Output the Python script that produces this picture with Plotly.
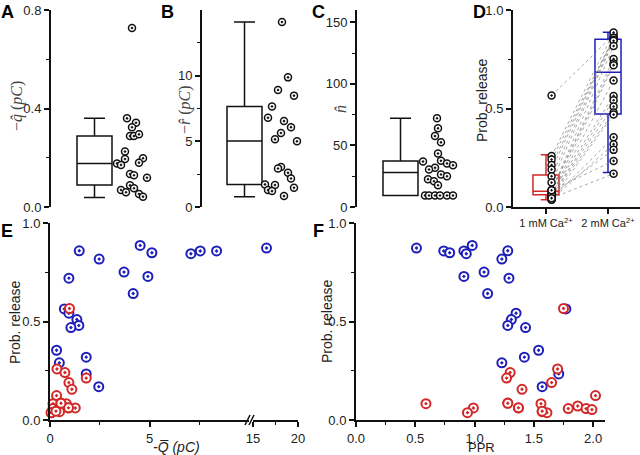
import plotly.graph_objects as go

W, H = 640, 455

# ---------------- data ----------------
# Panel A: -q_hat (pC)
A_q = [0.727, 0.36, 0.342, 0.324, 0.288, 0.288, 0.295, 0.225, 0.195, 0.177, 0.171,
       0.198, 0.18, 0.134, 0.129, 0.119, 0.088, 0.076, 0.069, 0.06, 0.053, 0.042]
A_box = dict(q1=0.089, median=0.177, q3=0.288, lower=0.039, upper=0.36)

# Panel B: -r_hat (pC)
B_r = [14.09, 9.87, 8.91, 8.48, 7.65, 6.79, 6.54, 6.08, 5.63, 5.15, 5.0,
       3.05, 2.93, 2.6, 2.17, 1.72, 1.67, 1.46, 1.29, 1.21, 0.83]
B_box = dict(q1=1.72, median=5.02, q3=7.65, lower=0.78, upper=14.09)

# Panel C: n_hat
C_n = [72.1, 63.9, 57.6, 52.5, 43.5, 36.9, 37.5, 35.4, 34, 31.8, 30.5,
       26.4, 25, 22.6, 20.9, 17.7, 9.3, 9.3, 9.3, 9.3, 9.3, 9.3]
C_box = dict(q1=9.3, median=28, q3=37.3, lower=9.3, upper=72)

# Panels D-F: per-cell values at 2 mM (blue) and 1 mM (red) Ca2+
blue_P = [0.873, 0.886, 0.858, 0.858, 0.859, 0.849, 0.844, 0.817, 0.751, 0.729, 0.720,
          0.642, 0.564, 0.542, 0.510, 0.480, 0.469, 0.354, 0.319, 0.290, 0.234, 0.169]
blue_Q = [16.5, 4.53, 7.55, 8.37, 1.47, 5.12, 7.08, 2.47, 3.72, 4.92, 0.95,
          4.18, 0.72, 0.95, 1.35, 1.45, 1.05, 0.33, 1.82, 0.47, 1.82, 2.45]
blue_PPR = [0.51, 0.98, 0.74, 0.91, 1.28, 0.79, 0.93, 1.23, 1.08, 0.91, 1.29,
            1.11, 1.77, 1.35, 1.31, 1.28, 1.43, 1.54, 1.42, 1.23, 1.71, 1.57]

red_P = [0.566, 0.259, 0.241, 0.213, 0.19, 0.156, 0.124, 0.083, 0.086, 0.083, 0.061,
         0.061, 0.071, 0.058, 0.058, 0.053, 0.037, 0.042, 0.037, 0.062, 0.085, 0.045]
red_Q = [0.98, 0.35, 0.75, 1.82, 0.95, 1.1, 0.33, 0.15, 0.55, 0.82, 0.93,
         1.27, 0.53, 0.15, 0.53, 0.40, 0.07, 0.48, 0.05, 0.93, 0.55, 0.3]
red_PPR = [1.75, 1.70, 1.30, 1.27, 1.65, 1.40, 2.02, 0.59, 1.28, 1.56, 0.99,
           1.37, 1.87, 1.79, 1.94, 1.99, 0.94, 1.57, 1.61, 1.37, 1.28, 1.57]

red_box = dict(q1=0.062, median=0.08, q3=0.163, lower=0.037, upper=0.265)
blue_box = dict(q1=0.472, median=0.684, q3=0.851, lower=0.175, upper=0.887)

D_categories = ["1 mM Ca<sup>2+</sup>", "2 mM Ca<sup>2+</sup>"]

# horizontal scatter placement of points beside the boxes (layout only)
A_jit = [81, 76, 85, 81, 79, 83, 88, 74, 74, 66, 70, 92, 88, 79, 83, 96, 79, 83, 70, 75, 88, 92]
B_jit = [80, 86, 76, 92, 70, 66, 82, 89, 79, 73, 95, 79, 76, 86, 89, 63, 73, 92, 66, 70, 82]
C_jit = [80, 81, 78, 84, 81, 66, 84, 90, 96, 78, 72, 84, 90, 71, 77, 81, 68, 72, 78, 83, 90, 96]

# ---------------- style ----------------
BLACK = "#111111"
RED = "rgb(210,40,40)"
BLUE = "rgb(30,30,185)"
SANS = "Liberation Sans, Arial, sans-serif"
SERIF = "Liberation Serif, DejaVu Serif, serif"


def px_x(p):
    return p / W


def px_y(p):
    return 1 - p / H


def yaxis(dom_top, dom_bot, rng, vals, minor, fmt, anchor):
    return dict(domain=[px_y(dom_bot), px_y(dom_top)], range=rng, anchor=anchor,
                showline=True, linecolor=BLACK, linewidth=2, mirror=False,
                ticks="outside", ticklen=5, tickwidth=1.5, tickcolor=BLACK,
                tickmode="array", tickvals=vals, tickformat=fmt,
                minor=dict(tickmode="array", tickvals=minor, ticks="outside", ticklen=3,
                           tickwidth=1.2, tickcolor=BLACK),
                showgrid=False, zeroline=False,
                tickfont=dict(family=SANS, size=13, color="#222"))


def xaxis(dom_l, dom_r, rng, anchor, visible=True, vals=None, text=None, minor=None, fmt=None,
          fsize=13):
    d = dict(domain=[px_x(dom_l), px_x(dom_r)], range=rng, anchor=anchor, visible=visible,
             showgrid=False, zeroline=False)
    if visible:
        d.update(showline=True, linecolor=BLACK, linewidth=2,
                 ticks="outside", ticklen=5, tickwidth=1.5, tickcolor=BLACK,
                 tickmode="array", tickvals=vals,
                 tickfont=dict(family=SANS, size=fsize, color="#222"))
        if text is not None:
            d["ticktext"] = text
        if fmt is not None:
            d["tickformat"] = fmt
        if minor is not None:
            d["minor"] = dict(tickmode="array", tickvals=minor, ticks="outside", ticklen=3,
                              tickwidth=1.2, tickcolor=BLACK)
    return d


fig = go.Figure()


def add_box(stats, xpos, width, color, xa, ya, ww=0.6):
    fig.add_trace(go.Box(x=[xpos], q1=[stats["q1"]], median=[stats["median"]], q3=[stats["q3"]],
                         lowerfence=[stats["lower"]], upperfence=[stats["upper"]],
                         width=width, whiskerwidth=ww, boxpoints=False,
                         line=dict(color=color, width=1.5), fillcolor="rgba(0,0,0,0)",
                         xaxis=xa, yaxis=ya, showlegend=False, hoverinfo="skip"))


def add_pts(xs, ys, xa, ya, color=BLACK, size=7, lw=1.5, fill="white"):
    fig.add_trace(go.Scatter(x=xs, y=ys, mode="markers", xaxis=xa, yaxis=ya, cliponaxis=False,
                             marker=dict(symbol="circle-dot", size=size, color=fill,
                                         line=dict(color=color, width=lw)),
                             showlegend=False, hoverinfo="skip"))


# A, B, C
add_box(A_box, 0.435, 0.35, BLACK, "x", "y")
add_pts([j / 100 for j in A_jit], A_q, "x", "y")
add_box(B_box, 0.425, 0.35, BLACK, "x2", "y2")
add_pts([j / 100 for j in B_jit], B_r, "x2", "y2")
add_box(C_box, 0.435, 0.35, BLACK, "x3", "y3")
add_pts([j / 100 for j in C_jit], C_n, "x3", "y3")

# D: paired lines
lx, ly = [], []
for p1, p2 in zip(red_P, blue_P):
    lx += [0.09, 1.09, None]
    ly += [p1, p2, None]
fig.add_trace(go.Scatter(x=lx, y=ly, mode="lines", xaxis="x4", yaxis="y4",
                         line=dict(color="rgba(120,120,120,0.8)", width=0.8, dash="dot"),
                         showlegend=False, hoverinfo="skip"))
add_box(red_box, 0, 0.42, RED, "x4", "y4", ww=0.4)
add_box(blue_box, 1, 0.42, BLUE, "x4", "y4", ww=0.4)
add_pts([0.09] * len(red_P), red_P, "x4", "y4", size=7)
add_pts([1.09] * len(blue_P), blue_P, "x4", "y4", size=7)

# E: broken x axis (two segments)
bq1 = [(q, p) for q, p in zip(blue_Q, blue_P) if q <= 10]
bq2 = [(q, p) for q, p in zip(blue_Q, blue_P) if q >= 15]
add_pts([a for a, b in bq1], [b for a, b in bq1], "x5", "y5", color=BLUE, size=9, lw=2)
add_pts([a for a, b in bq2], [b for a, b in bq2], "x6", "y5", color=BLUE, size=9, lw=2)
add_pts(red_Q, red_P, "x5", "y5", color=RED, size=9, lw=2)

# F
add_pts(blue_PPR, blue_P, "x7", "y7", color=BLUE, size=9, lw=2)
add_pts(red_PPR, red_P, "x7", "y7", color=RED, size=9, lw=2)

TOP, BOT = 10, 207
ETOP, EBOT = 223, 420

fig.update_layout(
    width=W, height=H, margin=dict(l=0, r=0, t=0, b=0),
    paper_bgcolor="white", plot_bgcolor="white", template="none",
    xaxis=xaxis(51, 151, [0, 1], "y", visible=False),
    yaxis=yaxis(TOP, BOT, [0, 0.8], [0, 0.4, 0.8], [0.2, 0.6], ".1f", "x"),
    xaxis2=xaxis(202, 302, [0, 1], "y2", visible=False),
    yaxis2=yaxis(TOP, BOT, [0, 15], [0, 5, 10], [2.5, 7.5, 12.5], "d", "x2"),
    xaxis3=xaxis(357, 457, [0, 1], "y3", visible=False),
    yaxis3=yaxis(TOP, BOT, [0, 160], [0, 50, 100, 150], [25, 75, 125], "d", "x3"),
    xaxis4=xaxis(513, 640, [-0.532, 1.516], "y4", vals=[0, 1], text=D_categories, fsize=11),
    yaxis4=yaxis(TOP, BOT, [0, 1], [0, 0.5, 1], [0.25, 0.75], ".1f", "x4"),
    xaxis5=xaxis(50, 249, [0, 10], "y5", vals=[0, 5], minor=[2.5, 7.5], fmt="d"),
    xaxis6=xaxis(253, 298, [15, 20], "y5", vals=[15, 20], minor=[17.5], fmt="d"),
    yaxis5=yaxis(ETOP, EBOT, [0, 1], [0, 0.5, 1], [0.25, 0.75], ".1f", "x5"),
    xaxis7=xaxis(356, 605, [0, 2.1], "y7", vals=[0, 0.5, 1, 1.5, 2], minor=[0.25, 0.75, 1.25, 1.75], fmt=".1f"),
    yaxis7=yaxis(ETOP, EBOT, [0, 1], [0, 0.5, 1], [0.25, 0.75], ".1f", "x7"),
)


def ann(text, x, y, size=14, angle=0, family=SANS, color="#222", bold=False):
    if bold:
        text = "<b>" + text + "</b>"
    fig.add_annotation(text=text, x=px_x(x), y=px_y(y), xref="paper", yref="paper",
                       showarrow=False, textangle=angle, xanchor="center", yanchor="middle",
                       font=dict(family=family, size=size, color=color))


# axis titles
ann("\u2212<i>q\u0302</i> (<i>pC</i>)", 17, 106, size=16, angle=-90, family=SERIF, color="#444")
ann("\u2212<i>r\u0302</i> (<i>pC</i>)", 185, 110, size=16, angle=-90, family=SERIF, color="#444")
ann("<i>n\u0302</i>", 340, 109, size=16, angle=-90, family=SERIF, color="#444")
ann("Prob. release", 482, 101, size=14, angle=-90)
ann("Prob. release", 15, 323, size=14, angle=-90)
ann("Prob. release", 327, 322, size=14, angle=-90)
ann("<i>-Q\u0305 (pC)</i>", 176, 447, size=14)
ann("PPR", 481, 447, size=13)

# panel letters
for lab, x, y in [("A", 7, 12), ("B", 167, 12), ("C", 318, 12), ("D", 479, 12),
                  ("E", 7, 231), ("F", 318, 231)]:
    ann(lab, x, y, size=18, bold=True, color="black")

# axis break marks on E
for x0 in (245, 249):
    fig.add_shape(type="line", xref="paper", yref="paper",
                  x0=px_x(x0), y0=px_y(425), x1=px_x(x0 + 5), y1=px_y(415),
                  line=dict(color=BLACK, width=1.5))

fig.write_html("out.html", config={"displayModeBar": False},
               post_script="document.body.style.margin='0';")
